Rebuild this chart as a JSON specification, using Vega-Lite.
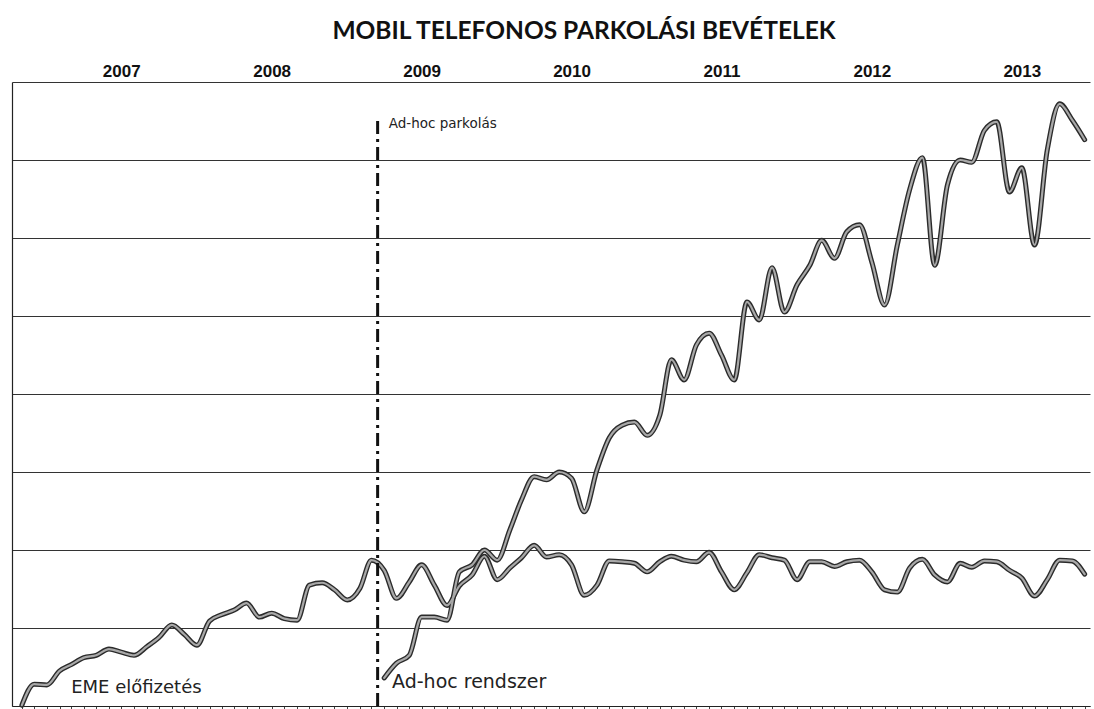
{
  "$schema": "https://vega.github.io/schema/vega-lite/v6.json",
  "width": 1078,
  "height": 624,
  "autosize": "none",
  "padding": {"left": 12, "top": 82, "right": 4, "bottom": 3},
  "background": "white",
  "title": {"text": "MOBIL TELEFONOS PARKOLÁSI BEVÉTELEK", "font": "Lato", "fontSize": 24.5, "fontWeight": "bold", "color": "#111", "anchor": "middle", "dx": 33, "offset": 18},
  "config": {"view": {"stroke": null}},
  "resolve": {"axis": {"x": "independent"}},
  "datasets": {
    "revenue": [
      {"month": "2006-11-01", "series": "EME", "value": 0.1},
      {"month": "2006-12-01", "series": "EME", "value": 2.8},
      {"month": "2007-01-01", "series": "EME", "value": 2.7},
      {"month": "2007-02-01", "series": "EME", "value": 4.5},
      {"month": "2007-03-01", "series": "EME", "value": 5.3},
      {"month": "2007-04-01", "series": "EME", "value": 6.2},
      {"month": "2007-05-01", "series": "EME", "value": 6.5},
      {"month": "2007-06-01", "series": "EME", "value": 7.3},
      {"month": "2007-07-01", "series": "EME", "value": 6.9},
      {"month": "2007-08-01", "series": "EME", "value": 6.5},
      {"month": "2007-09-01", "series": "EME", "value": 7.6},
      {"month": "2007-10-01", "series": "EME", "value": 8.8},
      {"month": "2007-11-01", "series": "EME", "value": 10.4},
      {"month": "2007-12-01", "series": "EME", "value": 9.2},
      {"month": "2008-01-01", "series": "EME", "value": 7.8},
      {"month": "2008-02-01", "series": "EME", "value": 10.9},
      {"month": "2008-03-01", "series": "EME", "value": 11.7},
      {"month": "2008-04-01", "series": "EME", "value": 12.3},
      {"month": "2008-05-01", "series": "EME", "value": 13.2},
      {"month": "2008-06-01", "series": "EME", "value": 11.4},
      {"month": "2008-07-01", "series": "EME", "value": 11.9},
      {"month": "2008-08-01", "series": "EME", "value": 11.2},
      {"month": "2008-09-01", "series": "EME", "value": 11.0},
      {"month": "2008-10-01", "series": "EME", "value": 15.5},
      {"month": "2008-11-01", "series": "EME", "value": 15.8},
      {"month": "2008-12-01", "series": "EME", "value": 14.9},
      {"month": "2009-01-01", "series": "EME", "value": 13.6},
      {"month": "2009-02-01", "series": "EME", "value": 15.1},
      {"month": "2009-03-01", "series": "EME", "value": 18.7},
      {"month": "2009-04-01", "series": "EME", "value": 17.4},
      {"month": "2009-05-01", "series": "EME", "value": 13.8},
      {"month": "2009-06-01", "series": "EME", "value": 15.9},
      {"month": "2009-07-01", "series": "EME", "value": 18.1},
      {"month": "2009-08-01", "series": "EME", "value": 15.5},
      {"month": "2009-09-01", "series": "EME", "value": 12.9},
      {"month": "2009-10-01", "series": "EME", "value": 15.4},
      {"month": "2009-11-01", "series": "EME", "value": 16.8},
      {"month": "2009-12-01", "series": "EME", "value": 19.2},
      {"month": "2010-01-01", "series": "EME", "value": 16.2},
      {"month": "2010-02-01", "series": "EME", "value": 17.7},
      {"month": "2010-03-01", "series": "EME", "value": 19.0},
      {"month": "2010-04-01", "series": "EME", "value": 20.6},
      {"month": "2010-05-01", "series": "EME", "value": 19.1},
      {"month": "2010-06-01", "series": "EME", "value": 19.4},
      {"month": "2010-07-01", "series": "EME", "value": 18.1},
      {"month": "2010-08-01", "series": "EME", "value": 14.2},
      {"month": "2010-09-01", "series": "EME", "value": 15.5},
      {"month": "2010-10-01", "series": "EME", "value": 18.6},
      {"month": "2010-11-01", "series": "EME", "value": 18.5},
      {"month": "2010-12-01", "series": "EME", "value": 18.3},
      {"month": "2011-01-01", "series": "EME", "value": 17.2},
      {"month": "2011-02-01", "series": "EME", "value": 18.5},
      {"month": "2011-03-01", "series": "EME", "value": 19.2},
      {"month": "2011-04-01", "series": "EME", "value": 18.7},
      {"month": "2011-05-01", "series": "EME", "value": 18.5},
      {"month": "2011-06-01", "series": "EME", "value": 19.7},
      {"month": "2011-07-01", "series": "EME", "value": 17.2},
      {"month": "2011-08-01", "series": "EME", "value": 14.9},
      {"month": "2011-09-01", "series": "EME", "value": 17.1},
      {"month": "2011-10-01", "series": "EME", "value": 19.4},
      {"month": "2011-11-01", "series": "EME", "value": 19.0},
      {"month": "2011-12-01", "series": "EME", "value": 18.7},
      {"month": "2012-01-01", "series": "EME", "value": 16.2},
      {"month": "2012-02-01", "series": "EME", "value": 18.5},
      {"month": "2012-03-01", "series": "EME", "value": 18.5},
      {"month": "2012-04-01", "series": "EME", "value": 17.9},
      {"month": "2012-05-01", "series": "EME", "value": 18.5},
      {"month": "2012-06-01", "series": "EME", "value": 18.7},
      {"month": "2012-07-01", "series": "EME", "value": 17.2},
      {"month": "2012-08-01", "series": "EME", "value": 14.9},
      {"month": "2012-09-01", "series": "EME", "value": 14.6},
      {"month": "2012-10-01", "series": "EME", "value": 17.7},
      {"month": "2012-11-01", "series": "EME", "value": 18.8},
      {"month": "2012-12-01", "series": "EME", "value": 16.8},
      {"month": "2013-01-01", "series": "EME", "value": 15.9},
      {"month": "2013-02-01", "series": "EME", "value": 18.3},
      {"month": "2013-03-01", "series": "EME", "value": 17.8},
      {"month": "2013-04-01", "series": "EME", "value": 18.6},
      {"month": "2013-05-01", "series": "EME", "value": 18.5},
      {"month": "2013-06-01", "series": "EME", "value": 17.4},
      {"month": "2013-07-01", "series": "EME", "value": 16.4},
      {"month": "2013-08-01", "series": "EME", "value": 14.1},
      {"month": "2013-09-01", "series": "EME", "value": 16.2},
      {"month": "2013-10-01", "series": "EME", "value": 18.7},
      {"month": "2013-11-01", "series": "EME", "value": 18.6},
      {"month": "2013-12-01", "series": "EME", "value": 16.9},
      {"month": "2009-04-01", "series": "Ad-hoc", "value": 3.6},
      {"month": "2009-05-01", "series": "Ad-hoc", "value": 5.5},
      {"month": "2009-06-01", "series": "Ad-hoc", "value": 6.5},
      {"month": "2009-07-01", "series": "Ad-hoc", "value": 11.4},
      {"month": "2009-08-01", "series": "Ad-hoc", "value": 11.4},
      {"month": "2009-09-01", "series": "Ad-hoc", "value": 11.0},
      {"month": "2009-10-01", "series": "Ad-hoc", "value": 17.2},
      {"month": "2009-11-01", "series": "Ad-hoc", "value": 18.1},
      {"month": "2009-12-01", "series": "Ad-hoc", "value": 20.0},
      {"month": "2010-01-01", "series": "Ad-hoc", "value": 18.7},
      {"month": "2010-02-01", "series": "Ad-hoc", "value": 22.6},
      {"month": "2010-03-01", "series": "Ad-hoc", "value": 26.4},
      {"month": "2010-04-01", "series": "Ad-hoc", "value": 29.4},
      {"month": "2010-05-01", "series": "Ad-hoc", "value": 29.0},
      {"month": "2010-06-01", "series": "Ad-hoc", "value": 30.0},
      {"month": "2010-07-01", "series": "Ad-hoc", "value": 29.2},
      {"month": "2010-08-01", "series": "Ad-hoc", "value": 24.9},
      {"month": "2010-09-01", "series": "Ad-hoc", "value": 30.3},
      {"month": "2010-10-01", "series": "Ad-hoc", "value": 34.4},
      {"month": "2010-11-01", "series": "Ad-hoc", "value": 36.0},
      {"month": "2010-12-01", "series": "Ad-hoc", "value": 36.4},
      {"month": "2011-01-01", "series": "Ad-hoc", "value": 34.7},
      {"month": "2011-02-01", "series": "Ad-hoc", "value": 37.3},
      {"month": "2011-03-01", "series": "Ad-hoc", "value": 44.4},
      {"month": "2011-04-01", "series": "Ad-hoc", "value": 41.8},
      {"month": "2011-05-01", "series": "Ad-hoc", "value": 46.3},
      {"month": "2011-06-01", "series": "Ad-hoc", "value": 47.8},
      {"month": "2011-07-01", "series": "Ad-hoc", "value": 45.0},
      {"month": "2011-08-01", "series": "Ad-hoc", "value": 41.8},
      {"month": "2011-09-01", "series": "Ad-hoc", "value": 51.8},
      {"month": "2011-10-01", "series": "Ad-hoc", "value": 49.5},
      {"month": "2011-11-01", "series": "Ad-hoc", "value": 56.2},
      {"month": "2011-12-01", "series": "Ad-hoc", "value": 50.5},
      {"month": "2012-01-01", "series": "Ad-hoc", "value": 54.0},
      {"month": "2012-02-01", "series": "Ad-hoc", "value": 56.5},
      {"month": "2012-03-01", "series": "Ad-hoc", "value": 59.7},
      {"month": "2012-04-01", "series": "Ad-hoc", "value": 57.4},
      {"month": "2012-05-01", "series": "Ad-hoc", "value": 60.8},
      {"month": "2012-06-01", "series": "Ad-hoc", "value": 61.7},
      {"month": "2012-07-01", "series": "Ad-hoc", "value": 56.9},
      {"month": "2012-08-01", "series": "Ad-hoc", "value": 51.4},
      {"month": "2012-09-01", "series": "Ad-hoc", "value": 59.1},
      {"month": "2012-10-01", "series": "Ad-hoc", "value": 66.2},
      {"month": "2012-11-01", "series": "Ad-hoc", "value": 70.3},
      {"month": "2012-12-01", "series": "Ad-hoc", "value": 56.5},
      {"month": "2013-01-01", "series": "Ad-hoc", "value": 66.8},
      {"month": "2013-02-01", "series": "Ad-hoc", "value": 70.0},
      {"month": "2013-03-01", "series": "Ad-hoc", "value": 69.7},
      {"month": "2013-04-01", "series": "Ad-hoc", "value": 73.8},
      {"month": "2013-05-01", "series": "Ad-hoc", "value": 74.9},
      {"month": "2013-06-01", "series": "Ad-hoc", "value": 65.9},
      {"month": "2013-07-01", "series": "Ad-hoc", "value": 69.0},
      {"month": "2013-08-01", "series": "Ad-hoc", "value": 59.1},
      {"month": "2013-09-01", "series": "Ad-hoc", "value": 71.3},
      {"month": "2013-10-01", "series": "Ad-hoc", "value": 77.2},
      {"month": "2013-11-01", "series": "Ad-hoc", "value": 75.1},
      {"month": "2013-12-01", "series": "Ad-hoc", "value": 72.6}
    ],
    "events": [
      {"month": "2009-03-16", "from": 0, "to": 75.6}
    ],
    "notes": [
      {"month": "2007-03-01", "value": 2.3, "text": "EME előfizetés", "size": 18},
      {"month": "2009-04-20", "value": 3.1, "text": "Ad-hoc rendszer", "size": 19},
      {"month": "2009-04-12", "value": 74.6, "text": "Ad-hoc parkolás", "size": 13.5}
    ]
  },
  "layer": [
    {
      "data": {"name": "revenue"},
      "mark": {"type": "line", "interpolate": "monotone", "stroke": "#2b2b2b", "strokeWidth": 5, "strokeCap": "round", "strokeJoin": "round"},
      "encoding": {
        "x": {"field": "month", "type": "temporal",
          "scale": {"type": "utc", "domain": [{"year": 2006, "month": 10, "date": 8, "utc": true}, {"year": 2013, "month": 12, "date": 14, "utc": true}]},
          "axis": {"orient": "bottom", "title": null, "labels": false, "grid": false, "domainColor": "#222", "domainWidth": 1.2, "tickColor": "#444", "tickSize": 4, "tickCount": {"interval": "month", "step": 1}}},
        "y": {"field": "value", "type": "quantitative",
          "scale": {"domain": [0, 80], "nice": false},
          "axis": {"title": null, "labels": false, "ticks": false, "values": [0, 10, 20, 30, 40, 50, 60, 70, 80], "grid": true, "gridColor": "#333", "gridWidth": 1, "domain": true, "domainColor": "#222", "domainWidth": 1.2}},
        "detail": {"field": "series"}
      }
    },
    {
      "data": {"name": "revenue"},
      "mark": {"type": "line", "interpolate": "monotone", "stroke": "#a8a8a8", "strokeWidth": 2.2, "strokeCap": "round", "strokeJoin": "round"},
      "encoding": {
        "x": {"field": "month", "type": "temporal",
          "axis": {"orient": "top", "title": null, "grid": false, "domain": false, "ticks": false, "labelFontSize": 17, "labelFontWeight": "bold", "labelFont": "Liberation Sans", "labelColor": "#111", "labelPadding": 2, "format": "%Y",
            "values": [{"year": 2007, "month": 7, "date": 1, "utc": true}, {"year": 2008, "month": 7, "date": 1, "utc": true}, {"year": 2009, "month": 7, "date": 1, "utc": true}, {"year": 2010, "month": 7, "date": 1, "utc": true}, {"year": 2011, "month": 7, "date": 1, "utc": true}, {"year": 2012, "month": 7, "date": 1, "utc": true}, {"year": 2013, "month": 7, "date": 1, "utc": true}]}},
        "y": {"field": "value", "type": "quantitative"},
        "detail": {"field": "series"}
      }
    },
    {
      "data": {"name": "events"},
      "mark": {"type": "rule", "stroke": "#111", "strokeWidth": 3, "strokeDash": [13, 5, 3, 5]},
      "encoding": {
        "x": {"field": "month", "type": "temporal", "axis": null},
        "y": {"field": "from", "type": "quantitative"},
        "y2": {"field": "to"}
      }
    },
    {
      "data": {"name": "notes"},
      "mark": {"type": "text", "align": "left", "baseline": "middle", "font": "DejaVu Sans", "color": "#222"},
      "encoding": {
        "x": {"field": "month", "type": "temporal", "axis": null},
        "y": {"field": "value", "type": "quantitative"},
        "text": {"field": "text"},
        "size": {"field": "size", "type": "quantitative", "scale": null}
      }
    }
  ]
}
